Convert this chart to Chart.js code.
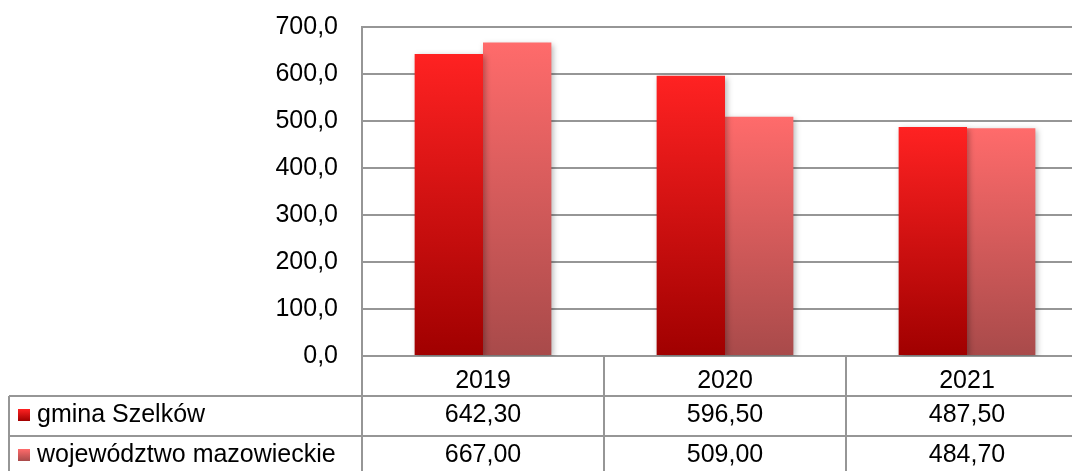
<!DOCTYPE html>
<html>
<head>
<meta charset="utf-8">
<script src="https://cdn.jsdelivr.net/npm/chart.js@4/dist/chart.umd.min.js"></script>
<style>
  html, body { margin: 0; padding: 0; background: #fff; overflow: hidden; }
  #wrap { width: 1088px; height: 471px; position: relative; }
</style>
</head>
<body>
<div id="wrap"><canvas id="chart"></canvas></div>
<script>
const years = ['2019', '2020', '2021'];
const gminaValues = [642.3, 596.5, 487.5];
const wojValues = [667.0, 509.0, 484.7];
const seriesNames = ['gmina Szelków', 'województwo mazowieckie'];
const yTicks = [0, 100, 200, 300, 400, 500, 600, 700];

const FONT = '"Liberation Sans", Arial, sans-serif';
const FSIZE = 25;
const LINE = '#969696';
const redStops = ['#ff2222', '#a00000'];
const pinkStops = ['#ff6b6b', '#a84a4a'];

function plFormat(v, d) {
    return v.toFixed(d).replace('.', ',');
}

function barGradient(stops) {
    return function (context) {
        const chart = context.chart;
        const area = chart.chartArea;
        if (!area) return stops[0];
        const top = chart.scales.y.getPixelForValue(context.raw);
        const g = chart.ctx.createLinearGradient(0, top, 0, area.bottom);
        g.addColorStop(0, stops[0]);
        g.addColorStop(1, stops[1]);
        return g;
    };
}

const shadowPlugin = {
    id: 'shadow',
    beforeDatasetsDraw(chart) {
        const ctx = chart.ctx;
        ctx.save();
        ctx.shadowColor = 'rgba(0,0,0,0.3)';
        ctx.shadowBlur = 6;
        ctx.shadowOffsetX = 2;
        ctx.shadowOffsetY = 2;
    },
    afterDatasetsDraw(chart) {
        chart.ctx.restore();
    }
};

const tablePlugin = {
    id: 'dataTable',
    afterDraw(chart) {
        const ctx = chart.ctx;
        const area = chart.chartArea;
        const x = chart.scales.x;
        const left = 9;
        const right = 1088;
        const rowTops = [396, 436];
        const bottom = 480;
        const step = (area.right - area.left) / years.length;

        ctx.save();
        ctx.strokeStyle = LINE;
        ctx.lineWidth = 2;
        ctx.beginPath();
        rowTops.forEach(function (y) {
            ctx.moveTo(left, y);
            ctx.lineTo(right, y);
        });
        ctx.moveTo(left, rowTops[0]);
        ctx.lineTo(left, bottom);
        ctx.moveTo(area.left, area.bottom);
        ctx.lineTo(area.left, bottom);
        for (let i = 1; i < years.length; i++) {
            const bx = area.left + step * i;
            ctx.moveTo(bx, area.bottom);
            ctx.lineTo(bx, bottom);
        }
        ctx.stroke();

        ctx.font = FSIZE + 'px ' + FONT;
        ctx.textBaseline = 'middle';
        const rows = [gminaValues, wojValues];
        const stops = [redStops, pinkStops];
        const centers = [415, 455];
        rows.forEach(function (vals, r) {
            const cy = centers[r];
            const g = ctx.createLinearGradient(0, cy - 6, 0, cy + 6);
            g.addColorStop(0, stops[r][0]);
            g.addColorStop(1, stops[r][1]);
            ctx.fillStyle = g;
            ctx.fillRect(18, cy - 6, 12, 12);
            ctx.fillStyle = '#000';
            ctx.textAlign = 'left';
            ctx.fillText(seriesNames[r], 37, cy);
            ctx.textAlign = 'center';
            vals.forEach(function (v, i) {
                ctx.fillText(plFormat(v, 2), x.getPixelForValue(i), cy);
            });
        });
        ctx.restore();
    }
};

new Chart(document.getElementById('chart'), {
    type: 'bar',
    data: {
        labels: years,
        datasets: [
            { label: seriesNames[0], data: gminaValues, backgroundColor: barGradient(redStops) },
            { label: seriesNames[1], data: wojValues, backgroundColor: barGradient(pinkStops) }
        ]
    },
    options: {
        responsive: true,
        maintainAspectRatio: false,
        animation: false,
        layout: { padding: { top: 27, right: 0, bottom: 0, left: 0 } },
        plugins: {
            legend: { display: false },
            tooltip: { enabled: false }
        },
        datasets: {
            bar: { barPercentage: 1, categoryPercentage: 0.565 }
        },
        scales: {
            x: {
                afterFit(scale) {
                    scale.height = 115;
                    scale.paddingLeft = 0;
                    scale.paddingRight = 0;
                },
                grid: { display: false },
                border: { display: false },
                ticks: {
                    color: '#000',
                    font: { family: FONT, size: FSIZE },
                    padding: 2,
                    maxRotation: 0
                }
            },
            y: {
                min: 0,
                max: 700,
                afterFit(scale) {
                    scale.width = 362;
                    scale.paddingTop = 0;
                    scale.paddingBottom = 0;
                },
                afterBuildTicks(scale) {
                    scale.ticks = yTicks.map(function (v) { return { value: v }; });
                },
                grid: { color: LINE, lineWidth: 2, drawTicks: false },
                border: { display: true, color: LINE, width: 2 },
                ticks: {
                    color: '#000',
                    font: { family: FONT, size: FSIZE },
                    padding: 24,
                    callback: function (v) { return plFormat(v, 1); }
                }
            }
        }
    },
    plugins: [shadowPlugin, tablePlugin]
});
</script>
</body>
</html>
